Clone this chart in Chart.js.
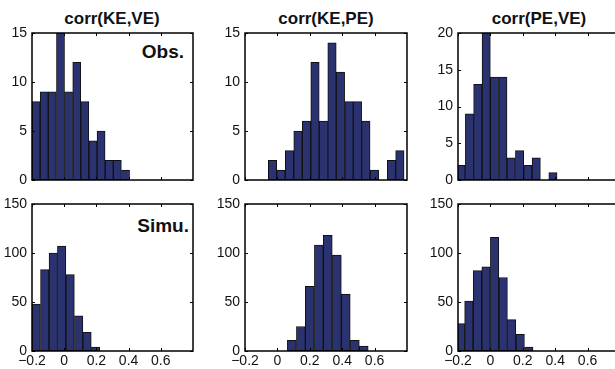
<!DOCTYPE html>
<html lang="en">
<head>
  <meta charset="UTF-8" />
  <title>corr histograms</title>
  <script src="https://cdn.jsdelivr.net/npm/chart.js"></script>
  <style>
    html, body { margin: 0; padding: 0; background: #fff; width: 615px; height: 369px; overflow: hidden; }
    body { position: relative; font-family: 'Liberation Sans', Arial, sans-serif; color: #111; }
    .panel { position: absolute; }
    .title { position: absolute; font-weight: bold; font-size: 17px; line-height: 1; white-space: nowrap; transform: translate(-50%, -50%); }
    .tag { position: absolute; font-weight: bold; font-size: 19px; line-height: 1; white-space: nowrap; transform: translateX(-100%); }
  </style>
</head>
<body>

  <div class="title" style="left:112px; top:18px;">corr(KE,VE)</div>
  <div class="title" style="left:326px; top:18px;">corr(KE,PE)</div>
  <div class="title" style="left:539px; top:18px;">corr(PE,VE)</div>
  <div class="tag" style="left:184px; top:42px;">Obs.</div>
  <div class="tag" style="left:189px; top:216px;">Simu.</div>

  <div class="panel" style="left:0px;   top:19px;"><canvas id="p1" width="196" height="175"></canvas></div>
  <div class="panel" style="left:205px; top:19px;"><canvas id="p2" width="205" height="175"></canvas></div>
  <div class="panel" style="left:415px; top:19px;"><canvas id="p3" width="208" height="175"></canvas></div>
  <div class="panel" style="left:0px;   top:190px;"><canvas id="p4" width="196" height="181"></canvas></div>
  <div class="panel" style="left:205px; top:190px;"><canvas id="p5" width="205" height="181"></canvas></div>
  <div class="panel" style="left:415px; top:190px;"><canvas id="p6" width="208" height="181"></canvas></div>

  <script>
    // x axis (correlation) shared by all panels
    const xTicks = [-0.2, 0, 0.2, 0.4, 0.6];
    const obsTicks = [0, 5, 10, 15];
    const obsTicksPV = [0, 5, 10, 15, 20];
    const simTicks = [0, 50, 100, 150];

    // observed, bin centres + counts
    const obsKeVeBins = [-0.175, -0.124, -0.074, -0.023, 0.027, 0.078, 0.128, 0.179, 0.229, 0.280, 0.330, 0.381];
    const obsKeVe     = [8, 9, 9, 15, 9, 12, 8, 4, 5, 2, 2, 1];
    const obsKePeBins = [-0.030, 0.022, 0.075, 0.127, 0.180, 0.232, 0.284, 0.337, 0.389, 0.442, 0.494, 0.546, 0.599, 0.651, 0.704, 0.756];
    const obsKePe     = [2, 1, 3, 5, 6, 12, 6, 14, 11, 8, 8, 6, 1, 0, 2, 3];
    const obsPeVeBins = [-0.181, -0.129, -0.078, -0.026, 0.025, 0.077, 0.128, 0.180, 0.231, 0.283, 0.334, 0.386];
    const obsPeVe     = [2, 9, 13, 20, 14, 14, 3, 4, 2, 3, 0, 1];

    // simulated
    const simKeVeBins = [-0.174, -0.121, -0.068, -0.016, 0.037, 0.090, 0.142, 0.195];
    const simKeVe     = [48, 83, 100, 107, 78, 36, 19, 4];
    const simKePeBins = [0.089, 0.145, 0.200, 0.256, 0.311, 0.367, 0.422, 0.478, 0.533];
    const simKePe     = [11, 25, 66, 108, 118, 98, 58, 11, 5];
    const simPeVeBins = [-0.185, -0.133, -0.080, -0.027, 0.026, 0.079, 0.131, 0.184, 0.237];
    const simPeVe     = [28, 51, 82, 86, 116, 75, 32, 17, 4];

    const barFill = '#2b3270';
    const tickFont = { family: "'Liberation Sans', Arial, sans-serif", size: 14 };

    // MATLAB style: full box, ticks pointing inwards
    const boxPlugin = {
      id: 'box',
      afterDraw(chart) {
        const { ctx, chartArea: a, scales: { x, y } } = chart;
        const t = 3;
        ctx.save();
        ctx.strokeStyle = '#000';
        ctx.lineWidth = 1;
        ctx.beginPath();
        x.ticks.forEach(tk => {
          const px = Math.round(x.getPixelForValue(tk.value)) + 0.5;
          ctx.moveTo(px, a.bottom); ctx.lineTo(px, a.bottom - t);
          ctx.moveTo(px, a.top); ctx.lineTo(px, a.top + t);
        });
        y.ticks.forEach(tk => {
          const py = Math.round(y.getPixelForValue(tk.value)) + 0.5;
          ctx.moveTo(a.left, py); ctx.lineTo(a.left + t, py);
          ctx.moveTo(a.right, py); ctx.lineTo(a.right - t, py);
        });
        ctx.stroke();
        ctx.lineWidth = 1.5;
        ctx.strokeRect(a.left, a.top, a.right - a.left, a.bottom - a.top);
        ctx.restore();
      }
    };

    function histPanel(id, bins, counts, yTicks, yw, xh, showX) {
      new Chart(document.getElementById(id), {
        type: 'bar',
        data: {
          datasets: [{
            data: bins.map((b, i) => ({ x: b, y: counts[i] })),
            backgroundColor: barFill,
            borderColor: '#111',
            borderWidth: 1,
            borderSkipped: false,
            barPercentage: 1,
            categoryPercentage: 1
          }]
        },
        options: {
          responsive: false,
          animation: false,
          devicePixelRatio: 1,
          layout: { padding: { top: 14, right: 3, left: 0, bottom: 0 } },
          plugins: { legend: { display: false }, tooltip: { enabled: false } },
          scales: {
            x: {
              type: 'linear',
              offset: false,
              min: -0.2,
              max: 0.8,
              grid: { display: false, drawTicks: false },
              border: { display: false },
              afterBuildTicks: s => { s.ticks = xTicks.map(v => ({ value: v })); },
              afterFit: s => { s.height = xh; },
              ticks: {
                display: showX,
                padding: 2,
                color: '#111',
                font: tickFont,
                callback: v => (v < 0 ? '\u2212' + Math.abs(v) : String(v))
              }
            },
            y: {
              min: 0,
              max: yTicks[yTicks.length - 1],
              grid: { display: false, drawTicks: false },
              border: { display: false },
              afterBuildTicks: s => { s.ticks = yTicks.map(v => ({ value: v })); },
              afterFit: s => { s.width = yw; },
              ticks: { padding: 5, color: '#111', font: tickFont }
            }
          }
        },
        plugins: [boxPlugin]
      });
    }

    histPanel('p1', obsKeVeBins, obsKeVe, obsTicks, 32, 14, false);
    histPanel('p2', obsKePeBins, obsKePe, obsTicks, 40, 14, false);
    histPanel('p3', obsPeVeBins, obsPeVe, obsTicksPV, 43, 14, false);
    histPanel('p4', simKeVeBins, simKeVe, simTicks, 32, 20, true);
    histPanel('p5', simKePeBins, simKePe, simTicks, 40, 20, true);
    histPanel('p6', simPeVeBins, simPeVe, simTicks, 43, 20, true);
  </script>
</body>
</html>
